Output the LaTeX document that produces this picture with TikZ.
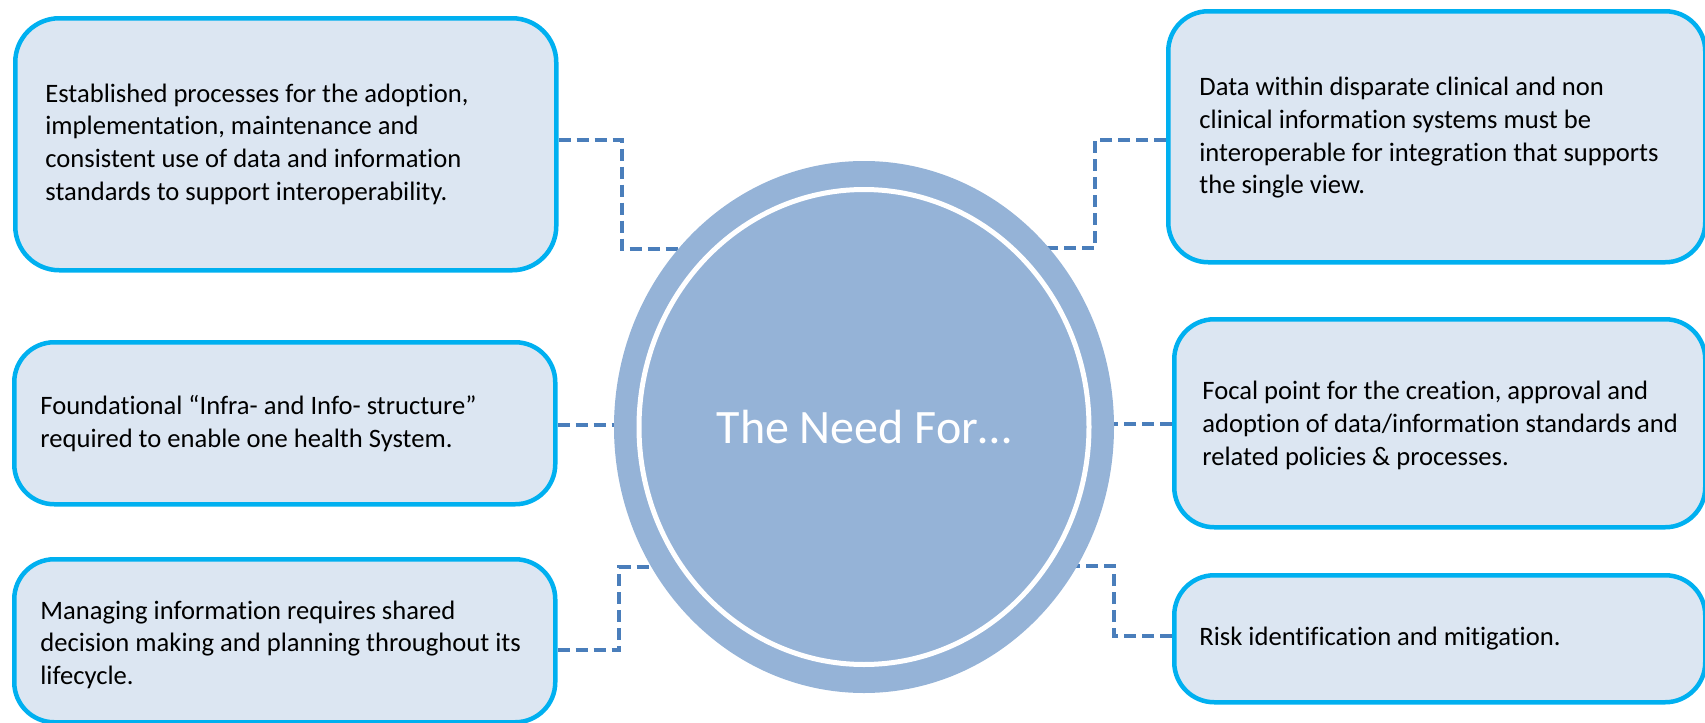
\documentclass[tikz,border=0pt]{standalone}
\usepackage{fontspec}
\setmainfont{Carlito}[Ligatures={NoCommon}]
\usetikzlibrary{shapes.geometric,backgrounds}
\definecolor{boxfill}{RGB}{220,230,242}
\definecolor{boxline}{RGB}{0,176,240}
\definecolor{ringfill}{RGB}{149,179,215}
\definecolor{connline}{RGB}{74,126,187}
\begin{document}
\begin{tikzpicture}[x=0.5pt,y=-0.5pt,
 infobox/.style={draw=boxline, fill=boxfill, line width=2.25pt, rounded corners=20pt,
   anchor=north west, inner sep=0pt},
 infotext/.style={anchor=west, align=left, inner sep=0pt, text=black,
   font=\fontsize{13.3}{16.4}\selectfont},
 conn/.style={draw=connline, line width=1.6pt, dash pattern=on 6pt off 3pt}]
\useasboundingbox (0,0) rectangle (1705,723);

% boxes
\node[infobox, rounded corners=22pt, minimum width=270.5pt, minimum height=126pt] (tl) at (13,16) {};
\node[infobox, minimum width=268.5pt, minimum height=125.5pt] (tr) at (1166,9) {};
\node[infobox, minimum width=270.5pt, minimum height=81pt] (ml) at (12,340) {};
\node[infobox, minimum width=265.5pt, minimum height=104pt] (mr) at (1172,317) {};
\node[infobox, minimum width=270.5pt, minimum height=81.5pt] (bl) at (12,557) {};
\node[infobox, minimum width=265.5pt, minimum height=63.5pt] (br) at (1172,573) {};

% texts
\node[infotext] (tlt) at ([xshift=16pt]tl.west)
 {Established processes for the adoption,\\implementation, maintenance and\\consistent use of data and information\\standards to support interoperability.};
\node[infotext] (trt) at ([xshift=16.5pt,yshift=-0.5pt]tr.west)
 {Data within disparate clinical and non\\clinical information systems must be\\interoperable for integration that supports\\the single view.};
\node[infotext] (mlt) at ([xshift=14pt]ml.west)
 {Foundational “Infra- and Info- structure”\\required to enable one health System.};
\node[infotext] (mrt) at ([xshift=15pt,yshift=-1pt]mr.west)
 {Focal point for the creation, approval and\\adoption of data/information standards and\\related policies \& processes.};
\node[infotext] (blt) at ([xshift=14pt,yshift=-2pt]bl.west)
 {Managing information requires shared\\decision making and planning throughout its\\lifecycle.};
\node[infotext] (brt) at ([xshift=13.5pt]br.west)
 {Risk identification and mitigation.};

% centre
\node[ellipse, fill=ringfill, minimum width=250pt, minimum height=266pt, inner sep=0pt] (c) at (864,427) {};
\draw[white, line width=2.5pt] (c.center) ellipse [x radius=112.5pt, y radius=118.75pt];
\node[text=white, font=\fontsize{24}{28}\selectfont, inner sep=0pt] (title) at (c.center) {The Need For…};

% connectors
\begin{scope}[on background layer]
\draw[conn] (tl.east |- 0,140) -| (622,249) -- (c.center |- 0,249);
\draw[conn] (tr.west |- 0,140) -| (1095,248) -- (c.center |- 0,248);
\draw[conn] (ml.east |- 0,425) -- (c.center |- 0,425);
\draw[conn] (mr.west |- 0,424) -- (c.center |- 0,424);
\draw[conn] (bl.east |- 0,650) -| (619,567) -- (c.center |- 0,567);
\draw[conn] (br.west |- 0,636) -| (1114,566) -- (c.center |- 0,566);
\end{scope}
\end{tikzpicture}
\end{document}
